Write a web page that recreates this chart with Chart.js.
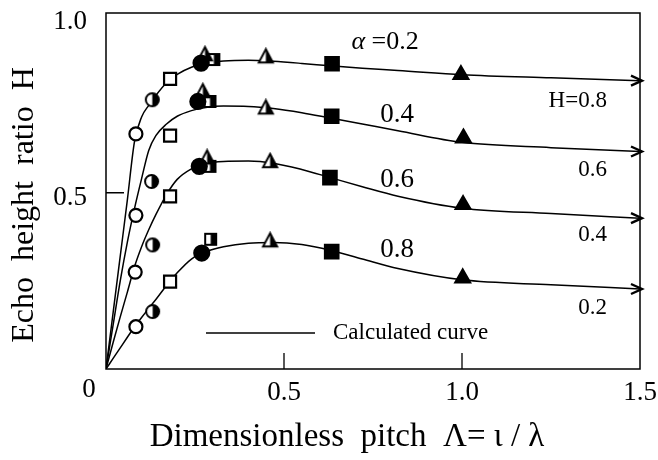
<!DOCTYPE html>
<html>
<head>
<meta charset="utf-8">
<script src="https://cdn.jsdelivr.net/npm/chart.js@4.4.1/dist/chart.umd.min.js"></script>
<style>
  html, body { margin: 0; padding: 0; background: #fff; }
</style>
</head>
<body>
<canvas id="chart" width="658" height="460"></canvas>
<script>
// Calculated curves: echo height ratio H against dimensionless pitch, one list per alpha
const curvePitch = [0, 0.02, 0.04, 0.06, 0.08, 0.1, 0.12, 0.14, 0.17, 0.2, 0.24, 0.28, 0.33, 0.4, 0.47, 0.55, 0.63, 0.72, 0.82, 1.0, 1.25, 1.5];
const curveH02 = [0, 0.16, 0.32, 0.48, 0.645, 0.715, 0.748, 0.776, 0.812, 0.836, 0.856, 0.868, 0.874, 0.876, 0.873, 0.867, 0.860, 0.853, 0.847, 0.835, 0.826, 0.818];
const curveH04 = [0, 0.125, 0.25, 0.36, 0.455, 0.54, 0.62, 0.662, 0.695, 0.717, 0.733, 0.742, 0.746, 0.745, 0.739, 0.727, 0.712, 0.695, 0.676, 0.643, 0.628, 0.617];
const curveH06 = [0, 0.075, 0.148, 0.218, 0.29, 0.347, 0.395, 0.438, 0.495, 0.538, 0.568, 0.583, 0.589, 0.590, 0.584, 0.566, 0.543, 0.517, 0.49, 0.456, 0.441, 0.428];
const curveH08 = [0, 0.03, 0.06, 0.09, 0.119, 0.146, 0.172, 0.197, 0.237, 0.273, 0.312, 0.333, 0.347, 0.357, 0.359, 0.353, 0.337, 0.312, 0.285, 0.253, 0.239, 0.227];

// Measured points, one entry per alpha (0.2, 0.4, 0.6, 0.8)
const openCirclePitch = [0.084, 0.084, 0.082, 0.084];
const openCircleH = [0.667, 0.436, 0.275, 0.120];
const halfCirclePitch = [0.130, 0.128, 0.131, 0.131];
const halfCircleH = [0.764, 0.532, 0.352, 0.163];
const openSquarePitch = [0.180, 0.180, 0.180, 0.180];
const openSquareH = [0.823, 0.662, 0.490, 0.248];
const filledCirclePitch = [0.267, 0.258, 0.262, 0.269];
const filledCircleH = [0.868, 0.759, 0.575, 0.329];
const halfSquarePitch = [0.303, 0.292, 0.292, 0.294];
const halfSquareH = [0.878, 0.759, 0.575, 0.368];
const filledSquarePitch = [0.635, 0.634, 0.629, 0.634];
const filledSquareH = [0.866, 0.717, 0.543, 0.333];
const filledTrianglePitch = [0.997, 1.004, 1.003, 1.002];
const filledTriangleH = [0.835, 0.655, 0.466, 0.258];
// half triangles: a group near 0.28 (no point for 0.8) and a group near 0.45
const halfTriangleLowPitch = [0.278, 0.272, 0.284];
const halfTriangleLowH = [0.892, 0.787, 0.599];
const halfTriangleHighPitch = [0.449, 0.449, 0.461, 0.461];
const halfTriangleHighH = [0.886, 0.741, 0.589, 0.364];

// Labels
const alphaLabels = ['0.2', '0.4', '0.6', '0.8'];
const asymptoteLabels = ['H=0.8', '0.6', '0.4', '0.2'];
const xTicks = [0.5, 1.0, 1.5];
const yTicks = [0.5, 1.0];
const xTitle = 'Dimensionless  pitch  Λ= ι / λ';
const yTitle = 'Echo  height  ratio  H';

const serif = '"Liberation Serif", "Times New Roman", serif';
Chart.defaults.font.family = serif;
Chart.defaults.color = '#000';

function points(xs, ys) {
    return xs.map((x, i) => ({ x: x, y: ys[i] }));
}

// Marker with left half white and right half black
function halfMarker(shape, size) {
    const c = document.createElement('canvas');
    c.width = size + 4;
    c.height = size + 4;
    const g = c.getContext('2d');
    const m = c.width / 2;
    const r = size / 2;
    g.lineWidth = 2;
    g.strokeStyle = '#000';
    g.beginPath();
    if (shape === 'circle') {
        g.arc(m, m, r - 1, 0, Math.PI * 2);
    } else if (shape === 'rect') {
        g.rect(m - r + 1, m - r + 1, size - 2, size - 2);
    } else {
        g.moveTo(m, m - r);
        g.lineTo(m + r - 0.5, m + r * 0.75);
        g.lineTo(m - r + 0.5, m + r * 0.75);
        g.closePath();
    }
    g.fillStyle = '#fff';
    g.fill();
    g.save();
    g.clip();
    g.fillStyle = '#000';
    g.fillRect(m, 0, c.width, c.height);
    g.restore();
    g.stroke();
    return c;
}

function curve(ys) {
    return {
        type: 'line',
        data: points(curvePitch, ys),
        borderColor: '#000',
        borderWidth: 1.5,
        pointRadius: 0,
        cubicInterpolationMode: 'monotone',
        isCurve: true,
        order: 10
    };
}

function markers(xs, ys, style, radius, fill, order) {
    return {
        type: 'scatter',
        data: points(xs, ys),
        pointStyle: style,
        pointRadius: radius,
        pointBackgroundColor: fill,
        pointBorderColor: '#000',
        pointBorderWidth: 2.2,
        order: order
    };
}

// Frame, inner ticks, arrow heads, axis titles and text labels
const decorations = {
    id: 'decorations',
    afterDatasetsDraw(chart) {
        const { ctx, chartArea: a, scales: { x, y } } = chart;
        ctx.save();
        ctx.strokeStyle = '#000';
        ctx.fillStyle = '#000';

        // plot frame
        ctx.lineWidth = 1.5;
        ctx.strokeRect(a.left, a.top, a.right - a.left, a.bottom - a.top);

        // tick marks pointing into the plot
        ctx.lineWidth = 1.3;
        ctx.beginPath();
        [0.5, 1.0].forEach(v => {
            const px = x.getPixelForValue(v);
            ctx.moveTo(px, a.bottom);
            ctx.lineTo(px, a.bottom - 16);
        });
        const py = y.getPixelForValue(0.5);
        ctx.moveTo(a.left, py);
        ctx.lineTo(a.left + 18, py);
        ctx.stroke();

        // arrow heads at the right end of each calculated curve
        ctx.lineWidth = 2.4;
        chart.data.datasets.forEach((ds, i) => {
            if (!ds.isCurve) return;
            const meta = chart.getDatasetMeta(i);
            const end = meta.data[meta.data.length - 1];
            ctx.beginPath();
            ctx.moveTo(end.x - 9, end.y - 5);
            ctx.lineTo(end.x + 2, end.y);
            ctx.lineTo(end.x - 9, end.y + 5);
            ctx.stroke();
        });

        ctx.textBaseline = 'middle';

        // axis titles
        ctx.textAlign = 'center';
        ctx.font = '33px ' + serif;
        ctx.fillText(xTitle, 347, 437);
        ctx.save();
        ctx.translate(25, 205);
        ctx.rotate(-Math.PI / 2);
        ctx.font = '32px ' + serif;
        ctx.fillText(yTitle, 0, 0);
        ctx.restore();

        // origin label
        ctx.font = '27px ' + serif;
        ctx.fillText('0', x.getPixelForValue(0) - 17, a.bottom + 21);

        // alpha labels beside the curves
        const ax = x.getPixelForValue(0.784);
        const ay = y.getPixelForValue(0.926);
        ctx.font = 'italic 26px ' + serif;
        const wA = ctx.measureText('α').width;
        ctx.font = '26px ' + serif;
        const rest = ' =' + alphaLabels[0];
        const wR = ctx.measureText(rest).width;
        ctx.textAlign = 'left';
        ctx.font = 'italic 26px ' + serif;
        ctx.fillText('α', ax - (wA + wR) / 2, ay);
        ctx.font = '26px ' + serif;
        ctx.fillText(rest, ax - (wA + wR) / 2 + wA, ay);

        ctx.textAlign = 'center';
        ctx.font = '27px ' + serif;
        const alphaH = [0.722, 0.537, 0.338];
        alphaLabels.slice(1).forEach((t, i) => {
            ctx.fillText(t, x.getPixelForValue(0.818), y.getPixelForValue(alphaH[i]));
        });

        // asymptotic H values below the arrows
        ctx.textAlign = 'right';
        ctx.font = '23px ' + serif;
        const asymH = [0.761, 0.565, 0.381, 0.173];
        asymptoteLabels.forEach((t, i) => {
            ctx.fillText(t, x.getPixelForValue(1.407), y.getPixelForValue(asymH[i]));
        });

        // legend for the calculated curve
        const ly = a.top + 320;
        ctx.lineWidth = 1.3;
        ctx.beginPath();
        ctx.moveTo(a.left + 100, ly);
        ctx.lineTo(a.left + 209, ly);
        ctx.stroke();
        ctx.textAlign = 'left';
        ctx.font = '23px ' + serif;
        ctx.fillText('Calculated curve', a.left + 227, ly);

        ctx.restore();
    }
};

const chart = new Chart(document.getElementById('chart'), {
    type: 'scatter',
    data: {
        datasets: [
            curve(curveH02),
            curve(curveH04),
            curve(curveH06),
            curve(curveH08),
            markers(halfSquarePitch, halfSquareH, halfMarker('rect', 13), 7, '#000', 6),
            markers(halfTriangleLowPitch, halfTriangleLowH, halfMarker('triangle', 15), 8, '#000', 5),
            markers(halfTriangleHighPitch, halfTriangleHighH, halfMarker('triangle', 15), 8, '#000', 5),
            markers(filledCirclePitch, filledCircleH, 'circle', 7.5, '#000', 4),
            markers(openCirclePitch, openCircleH, 'circle', 6.5, '#fff', 3),
            markers(halfCirclePitch, halfCircleH, halfMarker('circle', 15), 7, '#000', 3),
            markers(openSquarePitch, openSquareH, 'rect', 8.5, '#fff', 3),
            markers(filledSquarePitch, filledSquareH, 'rect', 9.5, '#000', 3),
            markers(filledTrianglePitch, filledTriangleH, 'triangle', 8.5, '#000', 3)
        ]
    },
    options: {
        responsive: false,
        animation: false,
        events: [],
        layout: { padding: { top: 13, right: 18, left: 0, bottom: 0 } },
        plugins: {
            legend: { display: false },
            tooltip: { enabled: false }
        },
        scales: {
            x: {
                type: 'linear',
                min: 0,
                max: 1.5,
                grid: { display: false },
                border: { display: false },
                afterBuildTicks: s => { s.ticks = xTicks.map(v => ({ value: v })); },
                afterFit: s => {
                    s.height = 91;
                    s.paddingLeft = 0;
                    s.paddingRight = 0;
                },
                ticks: {
                    font: { size: 27 },
                    padding: 0,
                    maxRotation: 0,
                    autoSkip: false,
                    callback: v => v.toFixed(1)
                }
            },
            y: {
                type: 'linear',
                min: 0,
                max: 1.01,
                grid: { display: false },
                border: { display: false },
                afterBuildTicks: s => { s.ticks = yTicks.map(v => ({ value: v })); },
                afterFit: s => {
                    s.width = 106;
                    s.paddingTop = 0;
                    s.paddingBottom = 0;
                },
                ticks: {
                    font: { size: 27 },
                    padding: 11,
                    labelOffset: 5,
                    autoSkip: false,
                    callback: v => v.toFixed(1)
                }
            }
        }
    },
    plugins: [decorations]
});
</script>
</body>
</html>
